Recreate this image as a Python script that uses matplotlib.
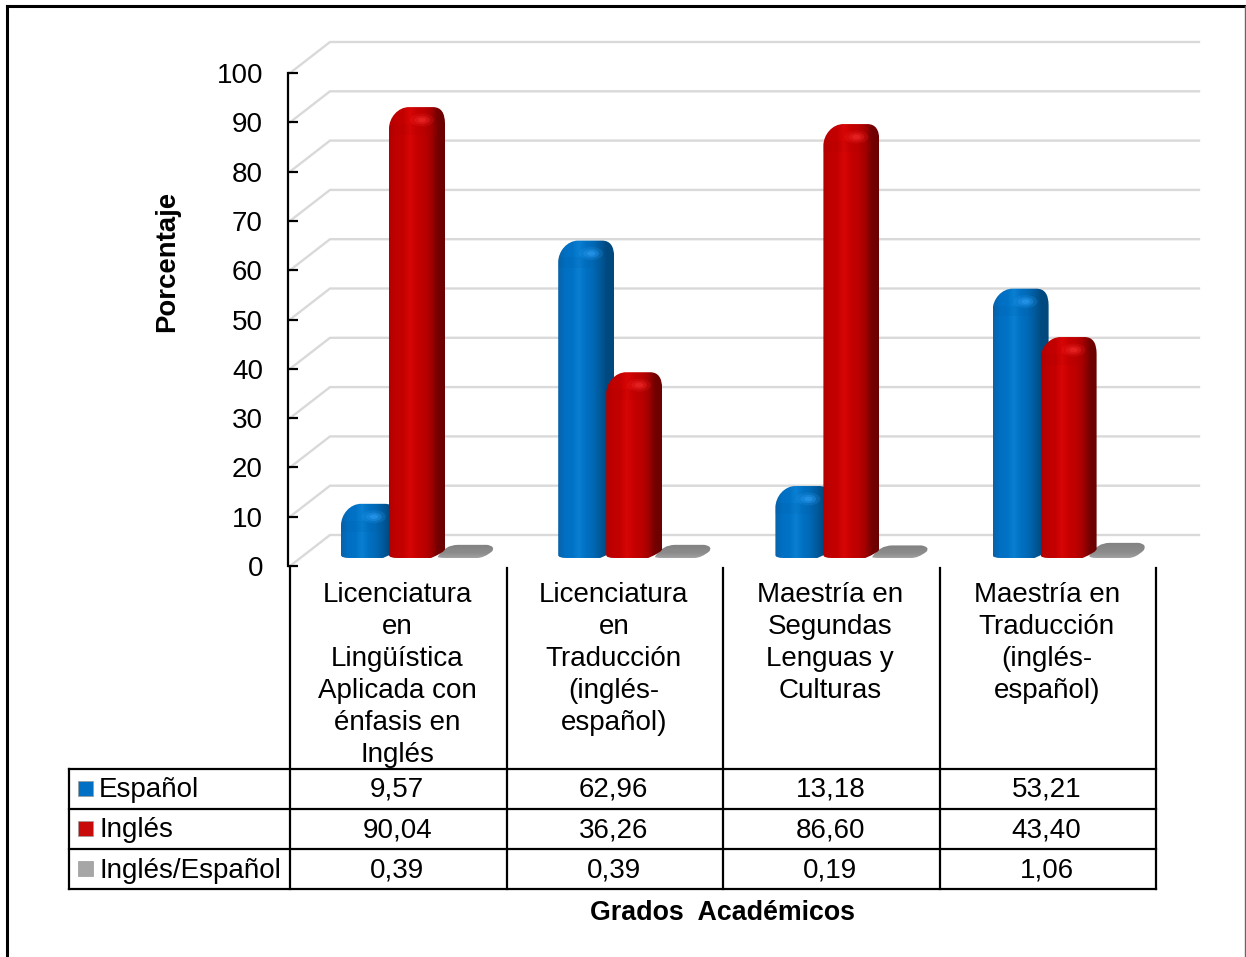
import matplotlib
matplotlib.use("Agg")
import matplotlib.pyplot as plt
import numpy as np
from matplotlib.colors import LinearSegmentedColormap
from matplotlib.patches import Ellipse, PathPatch, Rectangle
from matplotlib.path import Path

plt.rcParams['font.family'] = ['Liberation Sans', 'DejaVu Sans']

categories = [
    ['Licenciatura', 'en', 'Lingüística', 'Aplicada con', 'énfasis en', 'Inglés'],
    ['Licenciatura', 'en', 'Traducción', '(inglés-', 'español)'],
    ['Maestría en', 'Segundas', 'Lenguas y', 'Culturas'],
    ['Maestría en', 'Traducción', '(inglés-', 'español)'],
]
series_names = ['Español', 'Inglés', 'Inglés/Español']
espanol = [9.57, 62.96, 13.18, 53.21]
ingles = [90.04, 36.26, 86.60, 43.40]
ingles_espanol = [0.39, 0.39, 0.19, 1.06]
yticks = list(range(0, 101, 10))

W, H = 1246, 957
FS = 20
# plot area in pixels
LEFT, RIGHT, Y0, Y100 = 290, 1156, 566, 73
PX = 4 / (RIGHT - LEFT)          # one pixel in category units
PY = 100 / (Y0 - Y100)           # one pixel in percent units
SLOT = 217.2 * PX                # distance between column groups

ramps = {
    'blue': ['#0a62a8', '#0070c4', '#0072c6', '#0a7fd2', '#0070c2', '#0069b6', '#005a9c', '#00497f', '#004a80'],
    'red': ['#b40000', '#c00000', '#c40000', '#d80606', '#c60000', '#bc0000', '#a60000', '#740000', '#6a0000'],
    'gray': ['#a2a2a2', '#9a9a9a', '#929292', '#8c8c8c', '#8a8a8a', '#888888', '#868686', '#848484', '#808080'],
}
glows = {'blue': '#2c9cf2', 'red': '#f02a2a'}

fig = plt.figure(figsize=(W / 100, H / 100), dpi=100, facecolor='white')
ax = fig.add_axes([LEFT / W, 1 - Y0 / H, (RIGHT - LEFT) / W, (Y0 - Y100) / H])
ax.set_xlim(0, 4)
ax.set_ylim(0, 100)
ax.patch.set_visible(False)

# back wall grid with the slanted side wall lines
wall_dx, wall_dy = 40 * PX, 31 * PY
wall_end = 4 + 43 * PX
for v in yticks:
    ax.plot([0, wall_dx, wall_end], [v, v + wall_dy, v + wall_dy], color='#d9d9d9',
            lw=1.7, clip_on=False, zorder=1)


def rounded_column(x0, value, color, zorder):
    """Column with a rounded cap, side face and a soft highlight."""
    w, d = 48 * PX, 8 * PX
    base = 9 * PY
    depth = 8 * PY
    front = base + value           # front edge of the cap
    top = front + 6 * PY
    r = x0 + w + d
    verts = [
        (x0, base + 0.4),
        (x0, front - 3.2),
        (x0, front - 0.9), (x0 + 9 * PX, top), (x0 + 20 * PX, top),
        (r - 12 * PX, top),
        (r, top), (r, top - 3.4),
        (r, base + depth),
        (r, base + 1.0), (x0 + w - 6 * PX, base - 0.2),
        (x0 + 8 * PX, base - 0.2),
        (x0, base - 0.2), (x0, base + 0.4),
        (x0, base + 0.4),
    ]
    codes = [
        Path.MOVETO,
        Path.LINETO,
        Path.CURVE4, Path.CURVE4, Path.CURVE4,
        Path.LINETO,
        Path.CURVE3, Path.CURVE3,
        Path.LINETO,
        Path.CURVE3, Path.CURVE3,
        Path.LINETO,
        Path.CURVE3, Path.CURVE3,
        Path.CLOSEPOLY,
    ]
    clip = PathPatch(Path(verts, codes), fc='none', ec='none', transform=ax.transData)
    ax.add_patch(clip)
    cmap = LinearSegmentedColormap.from_list(color, ramps[color])
    shade = np.linspace(0, 1, 120).reshape(1, -1)
    body = ax.imshow(shade, extent=(x0, r, base - 1, top + 1), aspect='auto', cmap=cmap,
                     interpolation='bilinear', zorder=zorder, clip_on=True)
    body.set_clip_path(clip)

    # slightly darker band under the cap, then the highlight on its edge
    dark = ramps[color][6]
    band = Rectangle((x0, front - 4.4), w, 2.2, fc=dark, ec='none', alpha=0.12, zorder=zorder)
    ax.add_patch(band)
    band.set_clip_path(clip)
    for scale, alpha in [(1.0, 0.2), (0.65, 0.35), (0.35, 0.55)]:
        glow = Ellipse((x0 + 33 * PX, front - 1.4), 24 * PX * scale, 13 * PY * scale,
                       fc=glows[color], ec='none', alpha=alpha, zorder=zorder)
        ax.add_patch(glow)
        glow.set_clip_path(clip)


def flat_column(x0, value, zorder):
    """Nearly empty column: only its rounded cap shows above the floor."""
    base = 8 * PY
    w, d = 47 * PX, 10 * PX
    top = base + 12 * PY + value * 0.6
    mid = (base + top) / 2
    r = x0 + w + d
    verts = [
        (x0, mid - 1.0),
        (x0 + 7 * PX, top), (x0 + 20 * PX, top),
        (r - 8 * PX, top),
        (r + 1 * PX, top - 0.3), (r - 3 * PX, mid),
        (r - 11 * PX, base), (r - 18 * PX, base),
        (x0 + 8 * PX, base),
        (x0 - 2 * PX, base), (x0, mid - 1.0),
        (x0, mid - 1.0),
    ]
    codes = [
        Path.MOVETO,
        Path.CURVE3, Path.CURVE3,
        Path.LINETO,
        Path.CURVE3, Path.CURVE3,
        Path.CURVE3, Path.CURVE3,
        Path.LINETO,
        Path.CURVE3, Path.CURVE3,
        Path.CLOSEPOLY,
    ]
    clip = PathPatch(Path(verts, codes), fc='none', ec='none', transform=ax.transData)
    ax.add_patch(clip)
    cmap = LinearSegmentedColormap.from_list('gray', ramps['gray'])
    img = ax.imshow(np.linspace(1, 0, 40).reshape(-1, 1), extent=(x0 - 3 * PX, r + 2 * PX, base, top),
                    aspect='auto', cmap=cmap, interpolation='bilinear', zorder=zorder)
    img.set_clip_path(clip)


for i in range(4):
    # left edge of each column within its group
    rounded_column(i * SLOT + 51 * PX, espanol[i], 'blue', 3)
    rounded_column(i * SLOT + 99 * PX, ingles[i], 'red', 4)
    flat_column(i * SLOT + 148 * PX, ingles_espanol[i], 2)

ax.set_xlim(0, 4)
ax.set_ylim(0, 100)

ax.set_xticks([])
ax.set_yticks(yticks)
ax.tick_params(axis='y', direction='in', length=7.5, width=1.6, labelsize=FS, pad=18, color='black')
for s in ['top', 'right', 'bottom']:
    ax.spines[s].set_visible(False)
ax.spines['left'].set_linewidth(1.6)
ax.spines['left'].set_position(('outward', 1.5))

# everything outside the plot is laid out in pixels on a full-figure overlay
ov = fig.add_axes([0, 0, 1, 1], zorder=5)
ov.set_xlim(0, W)
ov.set_ylim(H, 0)
ov.axis('off')

# outer frame of the figure
ov.plot([7, 7], [H, 5.5], color='black', lw=2.2, solid_capstyle='projecting')
ov.plot([7, W], [5.5, 5.5], color='black', lw=2.2, solid_capstyle='projecting')
ov.plot([1245, 1245], [5.5, H], color='#666666', lw=1.0)

# data table under the chart
cols = [290, 506.5, 723, 939.5, 1156]
rows = [768.5, 808.5, 849, 889]
for x in cols:
    ov.plot([x, x], [568, rows[-1]], color='black', lw=1.6, solid_capstyle='projecting')
ov.plot([68.5, 68.5], [rows[0], rows[-1]], color='black', lw=1.6, solid_capstyle='projecting')
for y in rows:
    ov.plot([68.5, 1156], [y, y], color='black', lw=1.6, solid_capstyle='projecting')

for i, lines in enumerate(categories):
    cx = (cols[i] + cols[i + 1]) / 2
    for j, line in enumerate(lines):
        ov.text(cx - 1, 595 + 32 * j, line, fontsize=FS, ha='center', va='center')

swatches = ['#0070c4', '#c80a0a', '#a6a6a6']
table_rows = [espanol, ingles, ingles_espanol]
for k, name in enumerate(series_names):
    cy = (rows[k] + rows[k + 1]) / 2
    ov.add_patch(Rectangle((78, cy - 8), 15, 15, fc=swatches[k], ec='#9a9a9a', lw=0.5))
    ov.text(99, cy + 1.5, name, fontsize=FS, ha='left', va='center')
    for i, val in enumerate(table_rows[k]):
        label = f'{val:.2f}'.replace('.', ',')
        ov.text((cols[i] + cols[i + 1]) / 2 - 1, cy + 1.5, label, fontsize=FS, ha='center', va='center')

ov.text(722, 913, 'Grados  Académicos', fontsize=19.3, fontweight='bold', ha='center', va='center')
ov.text(167, 261, 'Porcentaje', fontsize=19.8, fontweight='bold', rotation=90, ha='center', va='center')

fig.savefig('out.png', dpi=100)
